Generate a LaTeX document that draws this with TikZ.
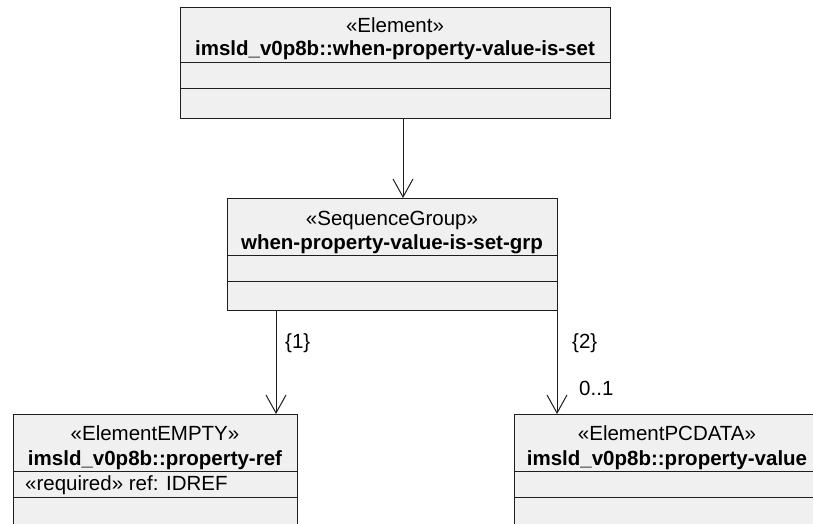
\documentclass[tikz,border=0pt]{standalone}
\usepackage{fontspec}
\setmainfont{Liberation Sans}
\usetikzlibrary{arrows.meta}
\definecolor{boxfill}{RGB}{240,240,240}
\definecolor{edge}{RGB}{30,30,30}
\begin{document}
\begin{tikzpicture}[x=1pt,y=-1pt,
  box/.style={draw=edge, fill=boxfill, line width=1pt, inner sep=0pt, anchor=north west},
  sep/.style={draw=edge, line width=1pt},
  stereo/.style={font=\fontsize{20.5}{24}\selectfont, anchor=base, inner sep=0pt},
  cname/.style={font=\fontsize{20.5}{24}\selectfont\bfseries, anchor=base, inner sep=0pt},
  attr/.style={font=\fontsize{20.5}{24}\selectfont, anchor=base west, inner sep=0pt},
  conn/.style={draw=edge, line width=1pt, -{Straight Barb[length=18pt,width=20pt,line width=1pt]}},
  lbl/.style={font=\fontsize{20.5}{24}\selectfont, anchor=base west, inner sep=0pt}]
\useasboundingbox (0,0) rectangle (813,524);
\fill[white] (0,0) rectangle (813,524);
\clip (0,0) rectangle (813,524);
% top box
\node[box, minimum width=430pt, minimum height=111pt] (top) at (180,7) {};
\draw[sep] (180,63) -- (610,63);
\draw[sep] (180,89) -- (610,89);
\node[stereo] (topst) at (395,33) {«Element»};
\node[cname] (topnm) at (395,56) {imsld\_v0p8b::when-property-value-is-set};
% middle box
\node[box, minimum width=330pt, minimum height=112pt] (mid) at (227,198) {};
\draw[sep] (227,255) -- (557,255);
\draw[sep] (227,281) -- (557,281);
\node[stereo] (midst) at (392,225) {«SequenceGroup»};
\node[cname] (midnm) at (392,249) {when-property-value-is-set-grp};
% bottom left box
\node[box, minimum width=284pt, minimum height=130pt] (bl) at (13,414) {};
\draw[sep] (13,471) -- (297,471);
\draw[sep] (13,497) -- (297,497);
\node[stereo] (blst) at (155,440) {«ElementEMPTY»};
\node[cname] (blnm) at (155,465) {imsld\_v0p8b::property-ref};
\node[attr] (blat) at (25,490) {«required» ref: IDREF};
% bottom right box
\node[box, minimum width=307pt, minimum height=130pt] (br) at (514,414) {};
\draw[sep] (514,471) -- (821,471);
\draw[sep] (514,497) -- (821,497);
\node[stereo] (brst) at (667,440) {«ElementPCDATA»};
\node[cname] (brnm) at (667,465) {imsld\_v0p8b::property-value};
% connectors
\coordinate (c1) at (403,0);
\coordinate (c2) at (276,0);
\coordinate (c3) at (557,0);
\draw[conn] (top.south -| c1) -- (mid.north -| c1);
\draw[conn] (mid.south -| c2) -- (bl.north -| c2);
\draw[conn] (mid.south -| c3) -- (br.north -| c3);
\node[lbl] (l1) at (285,348) {\{1\}};
\node[lbl] (l2) at (572,348) {\{2\}};
\node[lbl] (l3) at (579,395) {0..1};
\end{tikzpicture}
\end{document}
